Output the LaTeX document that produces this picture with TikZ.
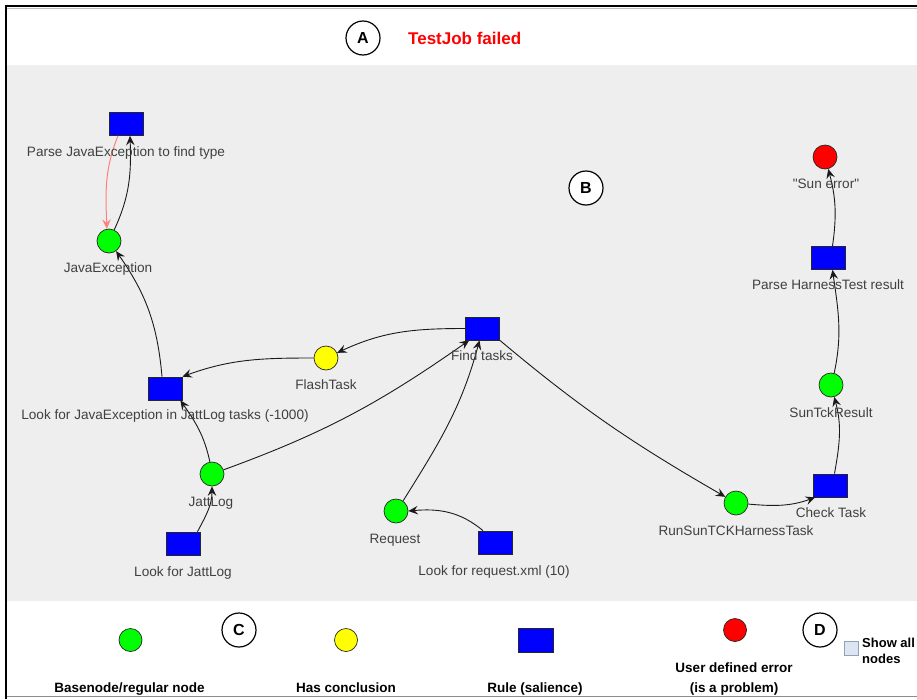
\documentclass[tikz,border=0pt]{standalone}
\usepackage{fontspec}
\setmainfont{Liberation Sans}
% same face without TeX ligature mapping, so a typed " stays straight
\newfontfamily\plainsans{Liberation Sans}
\usetikzlibrary{arrows.meta}
\definecolor{panel}{HTML}{EEEEEE}
\definecolor{basegreen}{HTML}{00FF00}
\definecolor{conclyellow}{HTML}{FFFF00}
\definecolor{ruleblue}{HTML}{0000FF}
\definecolor{errred}{HTML}{FF0000}
\definecolor{labelgray}{HTML}{404040}
\definecolor{edgegray}{HTML}{1A1A1A}
\definecolor{backpink}{HTML}{FF8080}
\definecolor{boxfill}{HTML}{DCE6F2}
\definecolor{boxedge}{HTML}{8FA2BA}
\begin{document}
\begin{tikzpicture}[x=1pt,y=1pt,
  rule/.style={draw=black!85,fill=ruleblue,minimum width=34pt,minimum height=23pt,inner sep=0pt,line width=0.7pt},
  base/.style={circle,draw=black!85,fill=basegreen,minimum size=24pt,inner sep=0pt,line width=0.7pt},
  concl/.style={base,fill=conclyellow},
  uerr/.style={base,fill=errred},
  lbl/.style={anchor=base,text=labelgray,inner sep=0pt,font=\plainsans\fontsize{13.6}{16}\selectfont},
  edge/.style={draw=edgegray,line width=0.9pt,-{Stealth[length=9.5pt,width=8.5pt,inset=3.5pt]}},
  back/.style={edge,draw=backpink,line width=1pt},
  marker/.style={circle,draw=black,line width=1.2pt,fill=white,minimum size=34pt,inner sep=0pt,font=\bfseries\fontsize{16}{16}\selectfont},
  legend/.style={anchor=base,inner sep=0pt,font=\bfseries\fontsize{13.5}{16}\selectfont},
]
\useasboundingbox (0,0) rectangle (917,-699);

% frame and panels
\fill[white] (0,0) rectangle (917,-699);
\fill[panel] (7,-65) rectangle (917,-601);
\draw[black!45,line width=1.5pt] (7,-696.5) -- (917,-696.5);
\draw[black!25,line width=1pt] (7,-8.5) -- (917,-8.5);
\draw[black,line width=2.6pt] (5,-6) -- (917,-6);
\draw[black,line width=2.6pt] (6,-5) -- (6,-699);

% header
\node[marker] (mA) at (363,-38) {A};
\node[anchor=base west,inner sep=0pt,text=errred,font=\bfseries\fontsize{17}{20}\selectfont] (title) at (408,-44) {TestJob failed};
\node[marker] (mB) at (586,-188) {B};

% rule nodes
\node[rule] (pj)  at (126,-124) {};
\node[rule] (lje) at (165,-388.5) {};
\node[rule] (ft)  at (482.5,-328.5) {};
\node[rule] (ljl) at (183.5,-543.5) {};
\node[rule] (lrq) at (495,-542.5) {};
\node[rule] (ct)  at (830.5,-485.5) {};
\node[rule] (ph)  at (828.5,-258) {};

% fact nodes
\node[base]  (je) at (109,-241) {};
\node[concl] (fl) at (326,-358) {};
\node[base]  (jl) at (212,-474) {};
\node[base]  (rq) at (396,-511) {};
\node[base]  (rs) at (736,-503) {};
\node[base]  (st) at (831,-385) {};
\node[uerr]  (se) at (825,-157) {};

% edges
\draw[edge] (je.65) to[out=65,in=-88] ([xshift=4pt]pj.south);
\draw[back] ([xshift=-8pt]pj.south) to[out=-112,in=92] (je.100);
\draw[edge] ([xshift=-3pt]lje.north) to[out=95,in=-55] (je.-55);
\draw[edge] (ft.west) to[out=180,in=25] (fl.25);
\draw[edge] (fl.west) to[out=180,in=20] (lje.north east);
\draw[edge] (jl.100) to[out=102,in=-55] ([xshift=-2pt]lje.south east);
\draw[edge] (jl.20) to[out=20,in=-145] ([xshift=4pt]ft.south west);
\draw[edge] ([xshift=14pt]ljl.north) to[out=62,in=-90] (jl.south);
\draw[edge] (rq.55) to[out=58,in=-105] ([xshift=-3pt]ft.south);
\draw[edge] ([xshift=-12pt]lrq.north) to[out=140,in=5] (rq.east);
\draw[edge] (ft.south east) to[out=-40,in=150] (rs.150);
\draw[edge] (rs.-5) to[out=-5,in=-160] ([xshift=2pt]ct.south west);
\draw[edge] ([xshift=4pt]ct.north) to[out=80,in=-75] (st.-75);
\draw[edge] (st.75) to[out=78,in=-82] ([xshift=4pt]ph.south);
\draw[edge] ([xshift=4pt]ph.north) to[out=82,in=-75] (se.-75);

% node labels
\node[lbl] (pjL)  at (126,-156)  {Parse JavaException to find type};
\node[lbl] (jeL)  at (108,-272)  {JavaException};
\node[lbl] (ljeL) at (165,-419)  {Look for JavaException in JattLog tasks (-1000)};
\node[lbl] (flL)  at (326,-389)  {FlashTask};
\node[lbl] (ftL)  at (482,-360)  {Find tasks};
\node[lbl] (jlL)  at (211,-506)  {JattLog};
\node[lbl] (ljlL) at (183,-576)  {Look for JattLog};
\node[lbl] (rqL)  at (395,-543)  {Request};
\node[lbl] (lrqL) at (494,-575)  {Look for request.xml (10)};
\node[lbl] (rsL)  at (736,-535)  {RunSunTCKHarnessTask};
\node[lbl] (ctL)  at (831,-517)  {Check Task};
\node[lbl] (stL)  at (831,-417)  {SunTckResult};
\node[lbl] (phL)  at (828,-289)  {Parse HarnessTest result};
\node[lbl] (seL)  at (826,-188)  {"Sun error"};

% legend
\node[marker] (mC) at (239,-630) {C};
\node[marker] (mD) at (820,-630) {D};
\node[base,minimum size=23pt] (lgBase) at (130.5,-640) {};
\node[concl,minimum size=23pt] (lgConcl) at (346,-640) {};
\node[rule,minimum width=35pt,minimum height=24pt] (lgRule) at (535.5,-640) {};
\node[uerr,minimum size=23pt] (lgErr) at (735,-630) {};
\node[legend] (lgBaseT)  at (129.5,-692) {Basenode/regular node};
\node[legend] (lgConclT) at (346,-692) {Has conclusion};
\node[legend] (lgRuleT)  at (535,-692) {Rule (salience)};
\node[legend] (lgErrT1)  at (734,-672) {User defined error};
\node[legend] (lgErrT2)  at (734,-692) {(is a problem)};
\node[draw=boxedge,fill=boxfill,minimum size=14pt,inner sep=0pt,line width=0.8pt] (showbox) at (851.5,-648.5) {};
\node[legend,anchor=base west,font=\bfseries\fontsize{13}{16}\selectfont] (showT1) at (862,-647) {Show all};
\node[legend,anchor=base west,font=\bfseries\fontsize{13}{16}\selectfont] (showT2) at (862,-663) {nodes};
\end{tikzpicture}
\end{document}
